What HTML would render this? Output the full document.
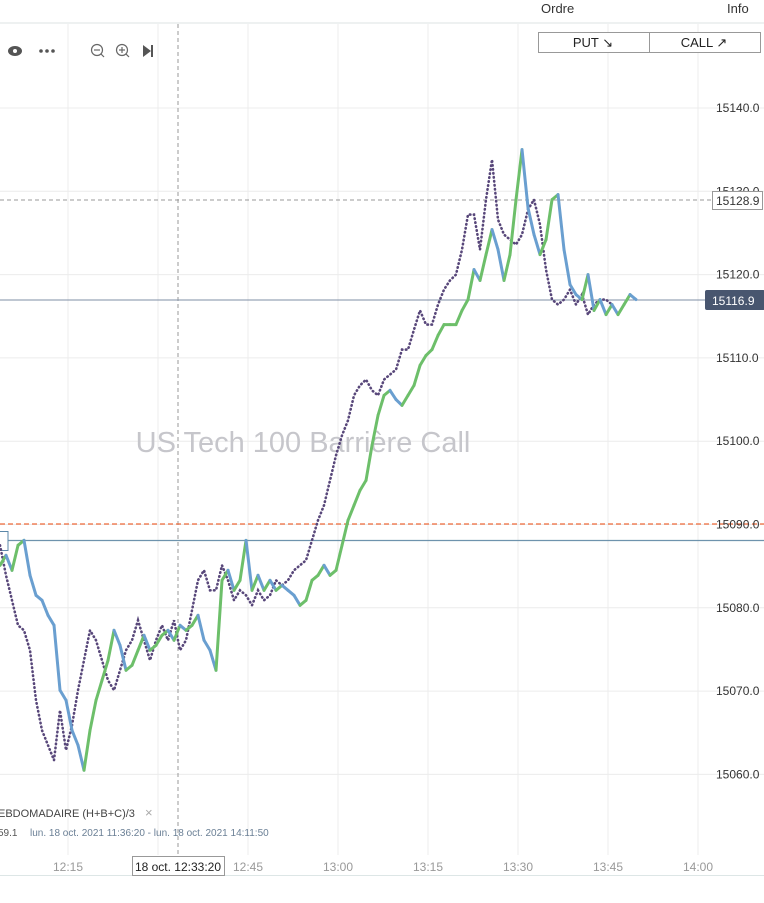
<!DOCTYPE html>
<html><head><meta charset="utf-8"><style>
body{margin:0;width:764px;height:903px;background:#fff;overflow:hidden;font-family:"Liberation Sans",sans-serif}
svg{position:absolute;left:0;top:0}
</style></head><body>
<svg width="764" height="903">
<g id="grid"></g>
<text x="303" y="452" text-anchor="middle" font-size="29" fill="#c6c6cb">US Tech 100 Barrière Call</text>
<line x1="0" y1="23" x2="764" y2="23" stroke="#dde3e3"/>
<text x="541" y="13" font-size="13" fill="#333">Ordre</text>
<text x="727" y="13" font-size="13" fill="#333">Info</text>
<rect x="538.5" y="32.5" width="222" height="20" fill="#fff" stroke="#999"/>
<line x1="649.5" y1="32" x2="649.5" y2="53" stroke="#999"/>
<text x="593" y="47" font-size="13" text-anchor="middle" fill="#222">PUT ↘</text>
<text x="704" y="47" font-size="13" text-anchor="middle" fill="#222">CALL ↗</text>
<g><ellipse cx="15" cy="51" rx="7" ry="5" fill="#555"/><circle cx="15" cy="51" r="2" fill="#fff"/></g>
<g fill="#555"><circle cx="41" cy="51" r="1.8"/><circle cx="47" cy="51" r="1.8"/><circle cx="53" cy="51" r="1.8"/></g>
<g stroke="#666" fill="none" stroke-width="1.2"><circle cx="97" cy="50" r="5.5"/><line x1="94" y1="50" x2="100" y2="50"/><line x1="101" y1="54" x2="104" y2="57"/></g>
<g stroke="#666" fill="none" stroke-width="1.2"><circle cx="122" cy="50" r="5.5"/><line x1="119" y1="50" x2="125" y2="50"/><line x1="122" y1="47" x2="122" y2="53"/><line x1="126" y1="54" x2="129" y2="57"/></g>
<g fill="#555"><path d="M143 45 L151 51 L143 57Z"/><rect x="151" y="45" width="2" height="12"/></g>
<line x1="178" y1="24" x2="178" y2="855" stroke="#999" stroke-dasharray="4 3"/>
<line x1="0" y1="200" x2="712" y2="200" stroke="#999" stroke-dasharray="4 3"/>
<line x1="0" y1="524" x2="764" y2="524" stroke="#ee6a3a" stroke-width="1.3" stroke-dasharray="5 3"/>
<line x1="0" y1="540.5" x2="764" y2="540.5" stroke="#6e93ad" stroke-width="1.2"/>
<rect x="-2" y="531.5" width="10" height="19" fill="#fff" stroke="#5b87a8"/>
<line x1="0" y1="300" x2="705" y2="300" stroke="#7f8fa6" stroke-width="1"/>
<g id="dots"></g>
<g id="price"></g>
<g id="ylabels"></g>
<rect x="712.5" y="191.5" width="50" height="18" fill="#fff" stroke="#999"/>
<text x="716" y="205" font-size="12" fill="#333">15128.9</text>
<rect x="705" y="290" width="60" height="20" rx="2" fill="#48566f"/>
<text x="712" y="305" font-size="12" fill="#fff">15116.9</text>
<g id="xlabels"></g>
<line x1="0" y1="875.5" x2="764" y2="875.5" stroke="#dde6e6"/>
<rect x="132.5" y="856.5" width="92" height="19" fill="#fff" stroke="#999"/>
<text x="178" y="871" font-size="12" text-anchor="middle" fill="#222">18 oct. 12:33:20</text>
<text x="-2" y="817" font-size="11" fill="#444">EBDOMADAIRE  (H+B+C)/3</text>
<text x="145" y="817" font-size="13" fill="#aaa">×</text>
<text x="-2" y="836" font-size="10" fill="#555">59.1</text>
<text x="30" y="836" font-size="10" fill="#6a7f95">lun. 18 oct. 2021 11:36:20 - lun. 18 oct. 2021 14:11:50</text>
</svg>
<script>
const priceValues=[15085.1,15086.3,15084.5,15087.5,15088.1,15083.9,15081.5,15080.9,15079.1,15077.9,15070.1,15068.9,15065.3,15063.5,15060.5,15065.3,15068.9,15071.3,15073.7,15077.3,15075.5,15072.5,15073.1,15074.9,15076.7,15074.9,15075.5,15076.7,15077.3,15076.1,15077.9,15077.3,15077.9,15079.1,15076.1,15074.9,15072.5,15083.3,15084.5,15082.1,15083.3,15088.1,15082.1,15083.9,15082.1,15083.3,15082.1,15082.7,15082.1,15081.5,15080.3,15080.9,15083.3,15083.9,15085.1,15083.9,15084.5,15087.5,15090.5,15092.3,15094.1,15095.3,15099.5,15103.1,15105.5,15106.1,15105.0,15104.3,15105.5,15106.7,15109.1,15110.3,15111.0,15112.7,15114.0,15114.0,15114.0,15115.7,15117.0,15120.6,15119.3,15122.4,15125.4,15123.0,15119.3,15122.4,15129.0,15135.0,15128.0,15124.8,15122.4,15124.2,15129.0,15129.6,15123.0,15118.8,15117.6,15117.0,15120.0,15115.7,15117.0,15115.2,15116.4,15115.2,15116.4,15117.6,15117.0];
const typicalValues=[15087.5,15083.9,15080.9,15077.9,15077.3,15074.9,15068.9,15065.3,15063.5,15061.7,15067.7,15062.9,15065.9,15070.1,15073.7,15077.3,15076.1,15073.7,15071.3,15070.1,15072.5,15074.9,15076.1,15078.5,15076.1,15073.7,15076.1,15077.9,15076.1,15078.5,15074.9,15076.1,15079.7,15083.3,15084.5,15082.1,15082.1,15085.1,15083.3,15080.9,15082.1,15081.5,15080.3,15082.1,15080.9,15081.5,15083.3,15082.7,15083.3,15084.5,15085.1,15085.7,15088.1,15090.5,15092.3,15095.3,15098.3,15100.7,15102.5,15105.5,15106.7,15107.4,15106.1,15105.5,15107.4,15108.0,15108.6,15111.0,15111.0,15113.4,15115.7,15114.0,15114.0,15116.4,15118.2,15119.3,15120.0,15123.0,15127.2,15127.2,15123.0,15129.0,15133.8,15126.6,15124.8,15124.2,15123.6,15124.8,15127.8,15129.0,15126.0,15120.6,15117.0,15116.4,15117.0,15118.2,15116.4,15117.6,15115.2,15116.4,15117.0,15117.0,15116.4];
const startMinute=3.67; // minutes after 12:00
const yTicks=[15140,15130,15120,15110,15100,15090,15080,15070,15060];
const xTickMinutes=[15,30,45,60,75,90,105,120];
const xTickLabels=["12:15","","12:45","13:00","13:15","13:30","13:45","14:00"];
const NS="http://www.w3.org/2000/svg";
function yS(p){return 108+(15140-p)*8.33;}
function xS(m){return 68+(m-15)*6;}
function mk(tag,attrs,parent){const e=document.createElementNS(NS,tag);for(const k in attrs)e.setAttribute(k,attrs[k]);parent.appendChild(e);return e;}
const grid=document.getElementById('grid'),yl=document.getElementById('ylabels'),xl=document.getElementById('xlabels');
yTicks.forEach(v=>{
  const l=mk('line',{x1:0,x2:764,y1:yS(v),y2:yS(v),stroke:'#ececec'},grid);
  
  
  const t=mk('text',{x:716,y:yS(v)+4,'font-size':12,fill:'#333'},yl);
  
  
  t.textContent=v.toFixed(1);
});
xTickMinutes.forEach((m,i)=>{
  const l=mk('line',{x1:xS(m),x2:xS(m),y1:24,y2:855,stroke:'#ececec'},grid);
  
  
  if(xTickLabels[i]){const t=mk('text',{x:xS(m),y:871,'font-size':12,fill:'#999','text-anchor':'middle'},xl);
  
  
  t.textContent=xTickLabels[i];}
});
const dg=document.getElementById('dots');
const dp=mk('path',{d:typicalValues.map((v,i)=>(i?'L':'M')+xS(startMinute+i).toFixed(1)+' '+yS(v).toFixed(1)).join(''),fill:'none',stroke:'#58477a','stroke-width':2.6,'stroke-dasharray':'0.5 3.5','stroke-linecap':'round'},dg);


const pg=document.getElementById('price');
for(let i=1;i<priceValues.length;i++){
  const up=priceValues[i]>=priceValues[i-1];
  const s=mk('line',{x1:xS(startMinute+i-1),y1:yS(priceValues[i-1]),x2:xS(startMinute+i),y2:yS(priceValues[i]),stroke:up?'#6dbf6a':'#6a9fd0','stroke-width':3,'stroke-linecap':'round'},pg);
  
  
}
</script>
</body></html>
